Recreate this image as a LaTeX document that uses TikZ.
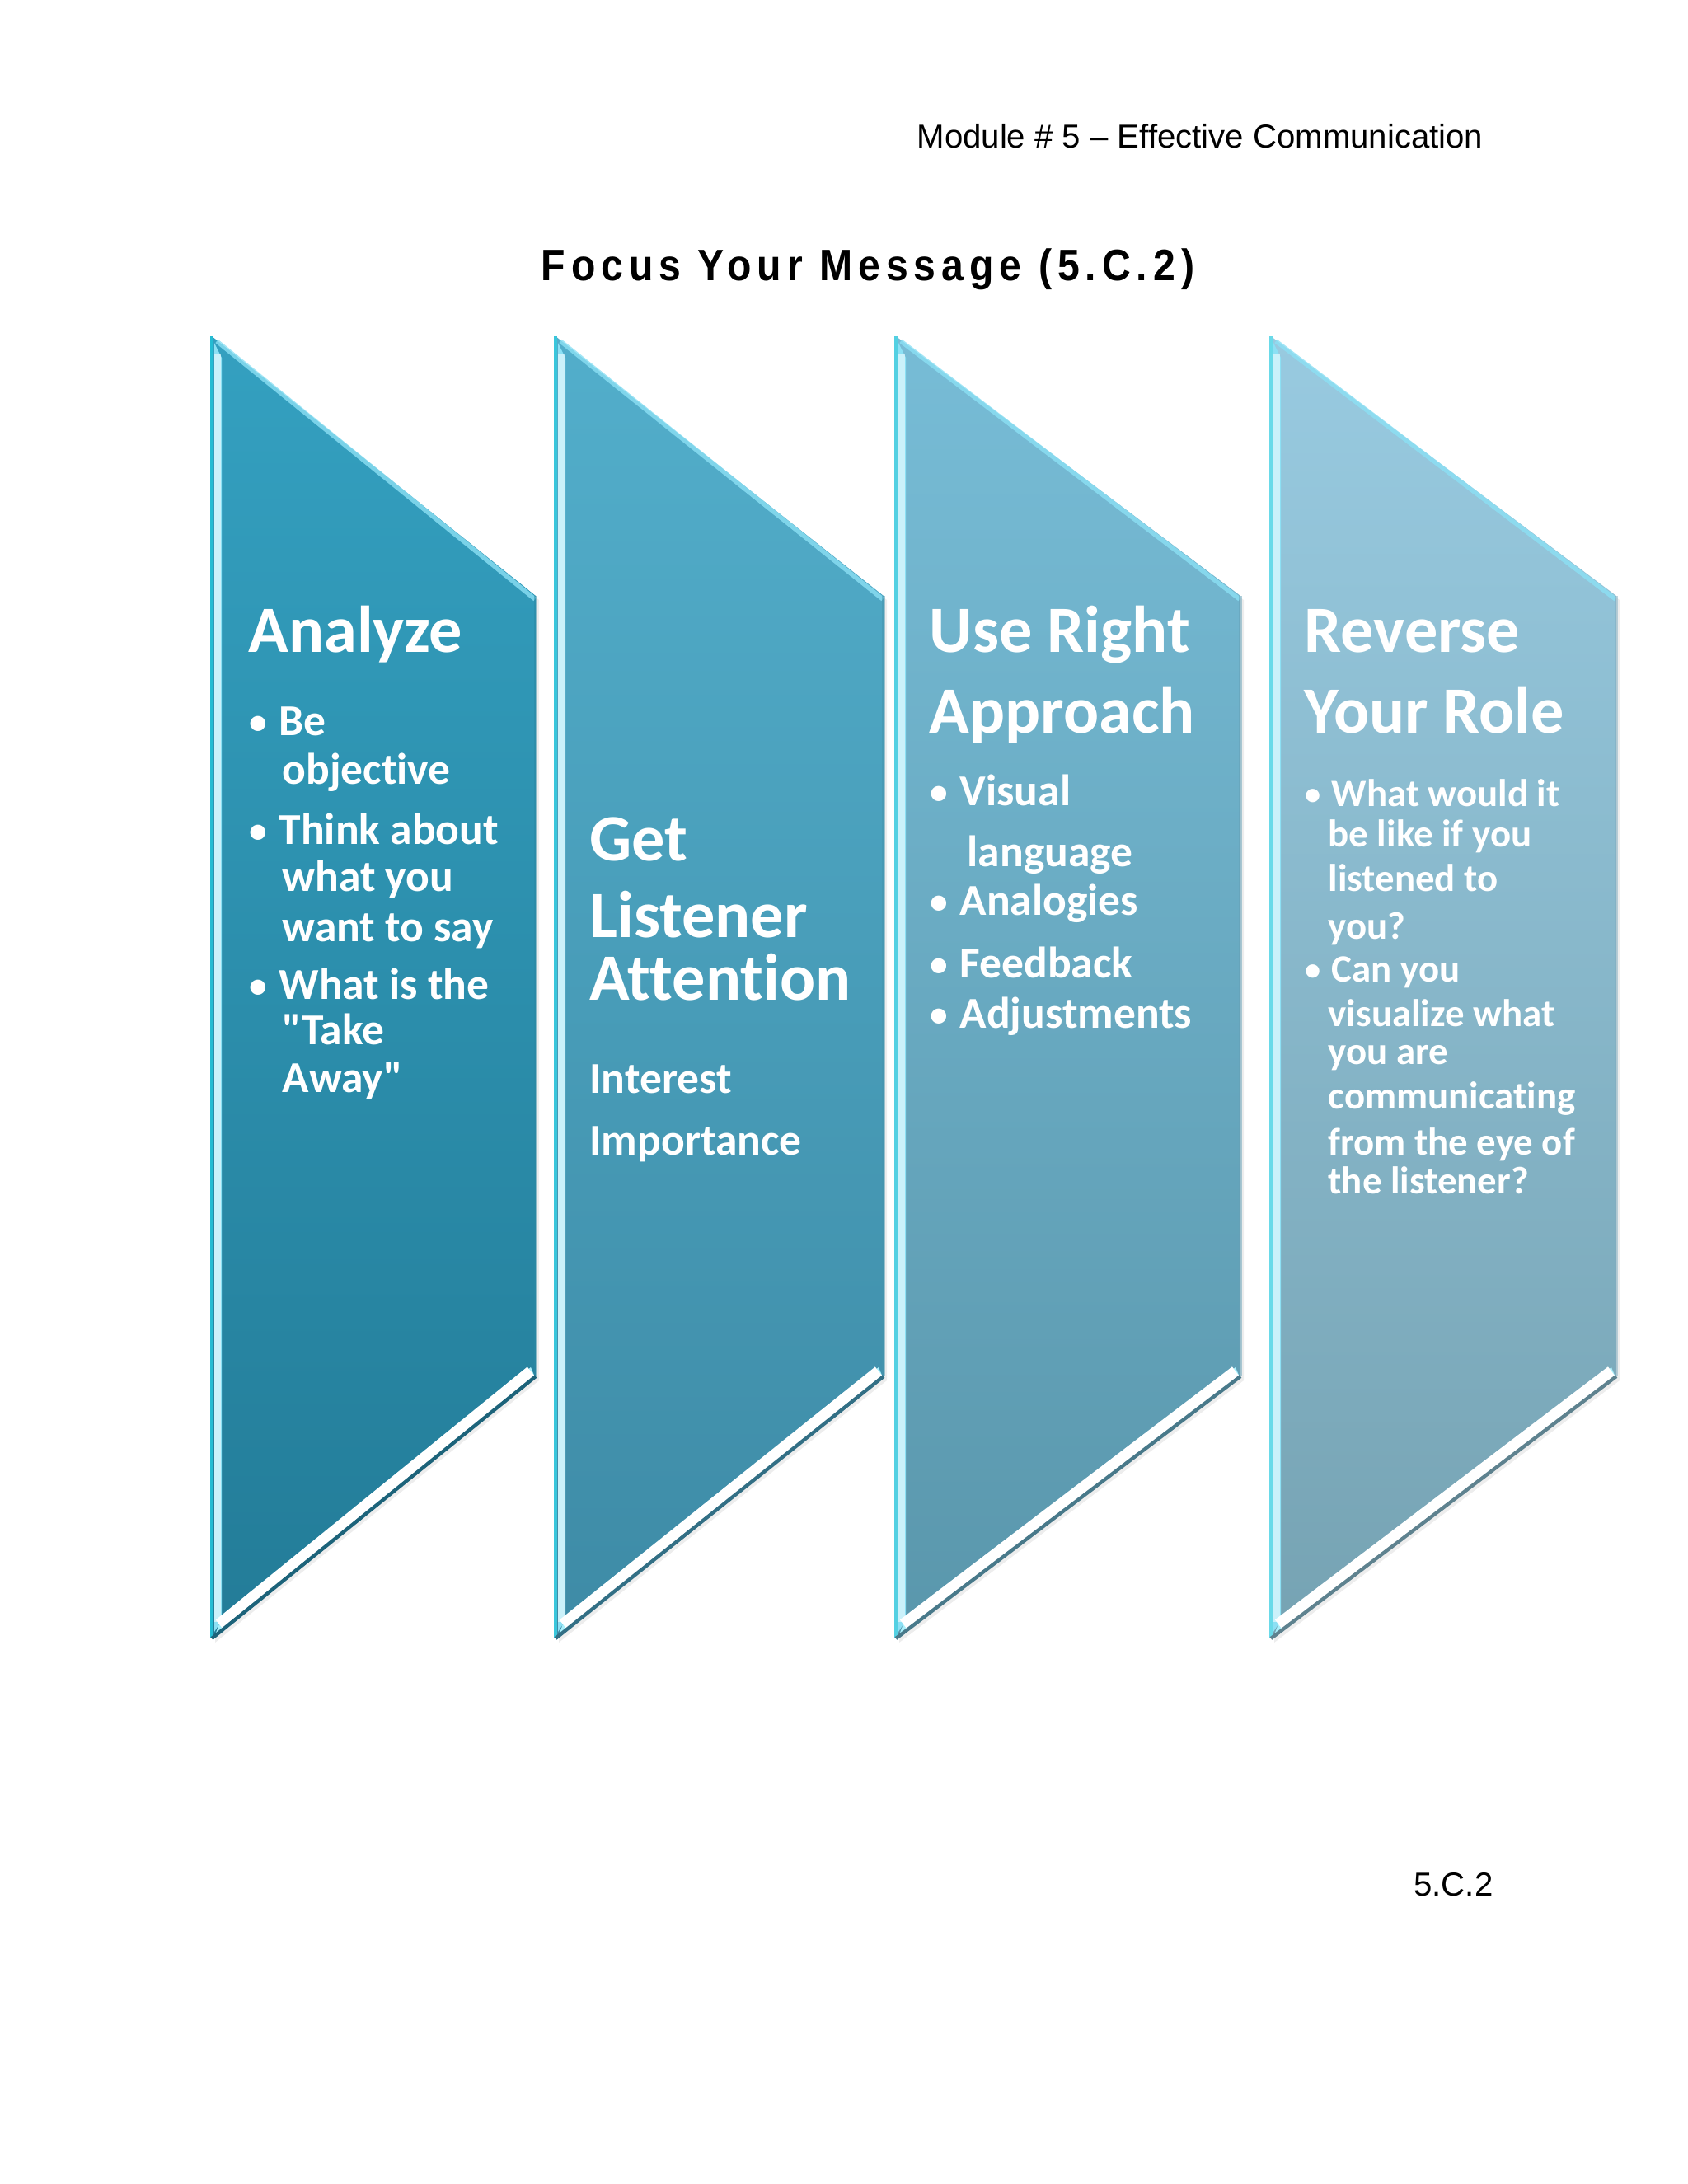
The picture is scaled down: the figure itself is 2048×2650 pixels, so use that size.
\documentclass[tikz,border=0pt]{standalone}
\usepackage{fontspec}
\newfontfamily\calib[Ligatures={NoCommon}]{Carlito}
\newfontfamily\arialf{Liberation Sans}
\newfontfamily\ttlfont[FakeStretch=0.9,LetterSpace=13]{Liberation Sans}
\definecolor{aTop}{RGB}{52,160,192}\definecolor{aBot}{RGB}{35,124,152}
\definecolor{bTop}{RGB}{82,174,203}\definecolor{bBot}{RGB}{62,139,166}
\definecolor{cTop}{RGB}{119,188,214}\definecolor{cBot}{RGB}{90,151,172}
\definecolor{dTop}{RGB}{152,202,224}\definecolor{dBot}{RGB}{118,163,179}
\definecolor{stripc}{RGB}{140,224,244}
\definecolor{bevc}{RGB}{170,240,252}
\newcommand\chevron[4]{%
  \fill[black,opacity=0.07] (#1+4,413) -- (#2+4,728) -- (#2+4,1675) -- (#1+4,1993) -- cycle;
  \shade[top color=#3, bottom color=#4] (#1,408) -- (#2,723) -- (#2,1670) -- (#1,1988) -- cycle;
  \draw[#3!70!cyan, line width=1.2] (#1,408) -- (#1,1988);
  \fill[stripc] (#1+3,416) -- (#1+12,434) -- (#1+12,1966) -- (#1+3,1980) -- cycle;
  \draw[white, opacity=0.55, line width=2.5] (#1+7,430) -- (#1+7,1968);
  \draw[stripc, opacity=0.8, line width=1.6] (#1+6,414) -- (#2-1,727);
  \draw[#3!85!black, opacity=0.5, line width=1] (#2,723) -- (#2,1670);
  \fill[bevc] (#1+4,1984) -- (#2-1,1671) -- (#2-6,1659) -- (#1+12,1962) -- cycle;
  \draw[white, line width=5] (#1+10,1972) -- (#2-5,1665);
  \draw[#4!80!black, line width=1.3] (#1,1988) -- (#2,1670);
}
\tikzset{
  hd/.style={font=\calib\bfseries\fontsize{24}{24}\selectfont, text=white, anchor=base west, inner sep=0pt},
  bt/.style={font=\calib\bfseries\fontsize{16}{16}\selectfont, text=white, anchor=base west, inner sep=0pt},
  bs/.style={font=\calib\bfseries\fontsize{14}{14}\selectfont, text=white, anchor=base west, inner sep=0pt},
  dotb/.style={font=\calib\bfseries\fontsize{13}{13}\selectfont, text=white, anchor=base west, inner sep=0pt},
  dots/.style={font=\calib\bfseries\fontsize{11.5}{11.5}\selectfont, text=white, anchor=base west, inner sep=0pt},
  plain/.style={font=\arialf\fontsize{12}{12}\selectfont, text=black, inner sep=0pt},
}
\begin{document}
\begin{tikzpicture}[x=0.29883pt,y=-0.29883pt]
\useasboundingbox (0,0) rectangle (2048,2650);
\fill[white] (0,0) rectangle (2048,2650);

\node[plain, anchor=base east] (hdr) at (1800,179) {Module \# 5 – Effective Communication};
\node[font=\ttlfont\bfseries\fontsize{16}{16}\selectfont, inner sep=0pt, anchor=base] (title) at (1053,340) {Focus Your Message (5.C.2)};
\node[plain, anchor=base east] (foot) at (1812,2300) {5.C.2};

\chevron{257}{650}{aTop}{aBot}
\chevron{674}{1072}{bTop}{bBot}
\chevron{1087}{1505}{cTop}{cBot}
\chevron{1542}{1961}{dTop}{dBot}

% column 1
\node[hd] (a0) at (301,791) {Analyze};
\node[dotb] (ab1) at (302,890) {•};
\node[bt] (a1) at (338,892) {Be};
\node[bt] (a2) at (342,951) {objective};
\node[dotb] (ab2) at (302,1022) {•};
\node[bt] (a3) at (338,1024) {Think about};
\node[bt] (a4) at (342,1081) {what you};
\node[bt] (a5) at (342,1142) {want to say};
\node[dotb] (ab3) at (302,1210) {•};
\node[bt] (a6) at (338,1212) {What is the};
\node[bt] (a7) at (342,1267) {"Take};
\node[bt] (a8) at (342,1325) {Away"};

% column 2
\node[hd] (b0) at (715,1044) {Get};
\node[hd] (b1) at (715,1137) {Listener};
\node[hd] (b2) at (715,1213) {Attention};
\node[bt] (b3) at (715,1326) {Interest};
\node[bt] (b4) at (715,1401) {Importance};

% column 3
\node[hd] (c0) at (1127,791) {Use Right};
\node[hd] (c1) at (1127,889) {Approach};
\node[dotb] (cb1) at (1128,975) {•};
\node[bt] (c2) at (1164,977) {Visual};
\node[bt] (c3) at (1173,1051) {language};
\node[dotb] (cb2) at (1128,1108) {•};
\node[bt] (c4) at (1164,1110) {Analogies};
\node[dotb] (cb3) at (1128,1184) {•};
\node[bt] (c5) at (1164,1186) {Feedback};
\node[dotb] (cb4) at (1128,1245) {•};
\node[bt] (c6) at (1164,1247) {Adjustments};

% column 4
\node[hd] (d0) at (1582,791) {Reverse};
\node[hd] (d1) at (1582,889) {Your Role};
\node[dots] (db1) at (1583,976) {•};
\node[bs] (d2) at (1615,978) {What would it};
\node[bs] (d3) at (1611,1027) {be like if you};
\node[bs] (d4) at (1611,1081) {listened to};
\node[bs] (d5) at (1611,1139) {you?};
\node[dots] (db2) at (1583,1189) {•};
\node[bs] (d6) at (1615,1191) {Can you};
\node[bs] (d7) at (1611,1245) {visualize what};
\node[bs] (d8) at (1611,1291) {you are};
\node[bs] (d9) at (1611,1345) {communicating};
\node[bs] (d10) at (1611,1401) {from the eye of};
\node[bs] (d11) at (1611,1448) {the listener?};
\end{tikzpicture}
\end{document}
